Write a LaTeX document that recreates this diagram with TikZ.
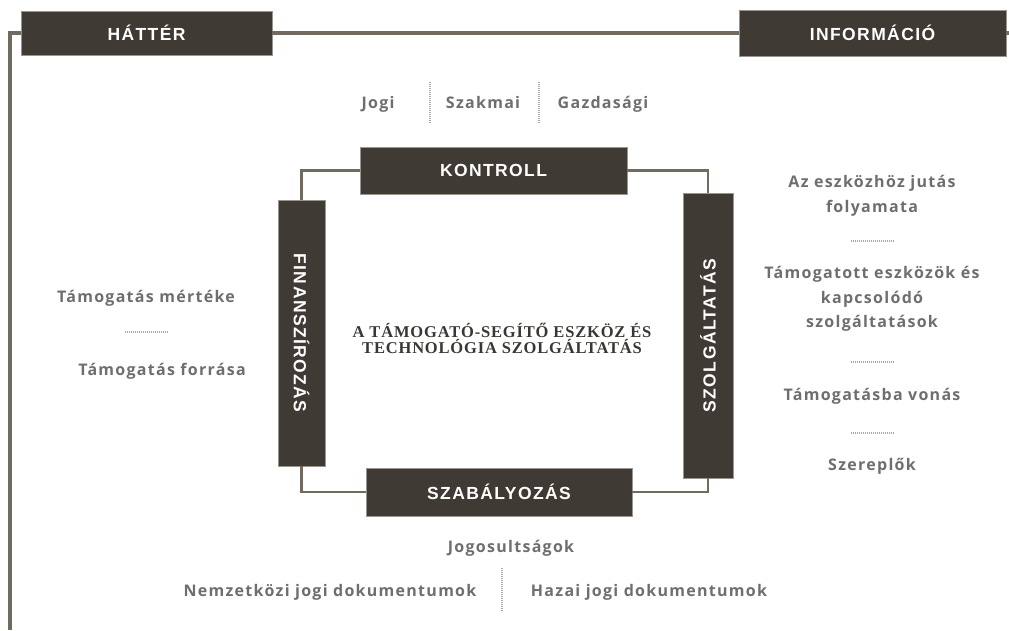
\documentclass[tikz,border=0pt]{standalone}
\usepackage{fontspec}
\usepackage{graphicx}
\usepackage{xcolor}
\usepackage{tikz}
\setmainfont{Liberation Sans}
\newfontfamily\boxfont[LetterSpace=8]{Liberation Sans}
\newfontfamily\labfont[LetterSpace=8]{Open Sans}
\newfontfamily\titlefont[LetterSpace=5]{Liberation Serif}
\definecolor{boxfill}{HTML}{3F3A34}
\definecolor{boxedge}{HTML}{9A958E}
\definecolor{linkc}{HTML}{716A5E}
\definecolor{labc}{HTML}{6E6E6E}
\definecolor{dotc}{HTML}{A8A8A8}
\definecolor{titlec}{HTML}{3A3632}
\tikzset{
  darkbox/.style={fill=boxfill, draw=boxedge, line width=0.6pt, inner sep=0pt,
    text=white, font=\boxfont\bfseries\fontsize{17.5}{19}\selectfont},
  outerlink/.style={draw=linkc, line width=4pt},
  link/.style={draw=linkc, line width=2.2pt},
  lab/.style={text=labc, inner sep=0pt, align=center,
    font=\labfont\bfseries\fontsize{16}{24.5}\selectfont},
  titlelab/.style={text=titlec, inner sep=0pt, align=center,
    font=\titlefont\bfseries\fontsize{16.5}{16}\selectfont},
  dotsep/.style={draw=dotc, line width=1.3pt, dash pattern=on 0.9pt off 1.1pt},
}
\begin{document}
\begin{tikzpicture}[x=1pt,y=-1pt]
  \useasboundingbox (0,0) rectangle (1009,630);
  % header bar
  \node[darkbox, minimum width=251pt, minimum height=44pt] (hatter) at (146.5,33) {HÁTTÉR};
  \node[darkbox, minimum width=267pt, minimum height=46pt] (info) at (872.5,33) {INFORMÁCIÓ};
  \coordinate (botleft) at (10,630);
  \coordinate (rightend) at (1009,33);
  \draw[outerlink] (hatter.west) -| (botleft);
  \draw[outerlink] (hatter) -- (info);
  \draw[outerlink] (info.east) -- (rightend);
  % inner square
  \node[darkbox, minimum width=267pt, minimum height=47pt] (kontroll) at (493.5,170.5) {KONTROLL};
  \node[darkbox, minimum width=47pt, minimum height=266pt] (finansz) at (301.5,333) {\rotatebox{-90}{FINANSZÍROZÁS}};
  \node[darkbox, minimum width=50pt, minimum height=285pt] (szolg) at (708,335.5) {\rotatebox{90}{SZOLGÁLTATÁS}};
  \node[darkbox, minimum width=266pt, minimum height=48pt] (szabaly) at (499,492) {SZABÁLYOZÁS};
  \draw[link] (kontroll.west) -| (finansz.north);
  \draw[link] (kontroll.east) -| (szolg.north);
  \draw[link] (finansz.south) |- (szabaly.west);
  \draw[link] (szolg.south) |- (szabaly.east);
  \node[titlelab] (cim) at (502,338) {A TÁMOGATÓ-SEGÍTŐ ESZKÖZ ÉS\\TECHNOLÓGIA SZOLGÁLTATÁS};
  % top
  \node[lab, anchor=base] (jogi) at (378,108) {Jogi};
  \node[lab, anchor=base] (szakmai) at (483,108) {Szakmai};
  \node[lab, anchor=base] (gazd) at (603,108) {Gazdasági};
  \draw[dotsep] (430,82) -- (430,123);
  \draw[dotsep] (539,82) -- (539,123);
  % left
  \node[lab] (mertek) at (146,298) {Támogatás mértéke};
  \draw[dotsep] (125,332) -- (168,332);
  \node[lab] (forras) at (162,371) {Támogatás forrása};
  % right
  \node[lab] (jutas) at (872,196) {Az eszközhöz jutás\\folyamata};
  \draw[dotsep] (851,241) -- (894,241);
  \node[lab] (eszkozok) at (872,299) {Támogatott eszközök és\\kapcsolódó\\szolgáltatások};
  \draw[dotsep] (851,362) -- (894,362);
  \node[lab] (bevonas) at (872,396) {Támogatásba vonás};
  \draw[dotsep] (851,433) -- (894,433);
  \node[lab] (szereplok) at (872,466) {Szereplők};
  % bottom
  \node[lab] (jogosult) at (511,548) {Jogosultságok};
  \node[lab] (nemzetkozi) at (330,592) {Nemzetközi jogi dokumentumok};
  \draw[dotsep] (502,568) -- (502,612);
  \node[lab] (hazai) at (649,592) {Hazai jogi dokumentumok};
\end{tikzpicture}
\end{document}
